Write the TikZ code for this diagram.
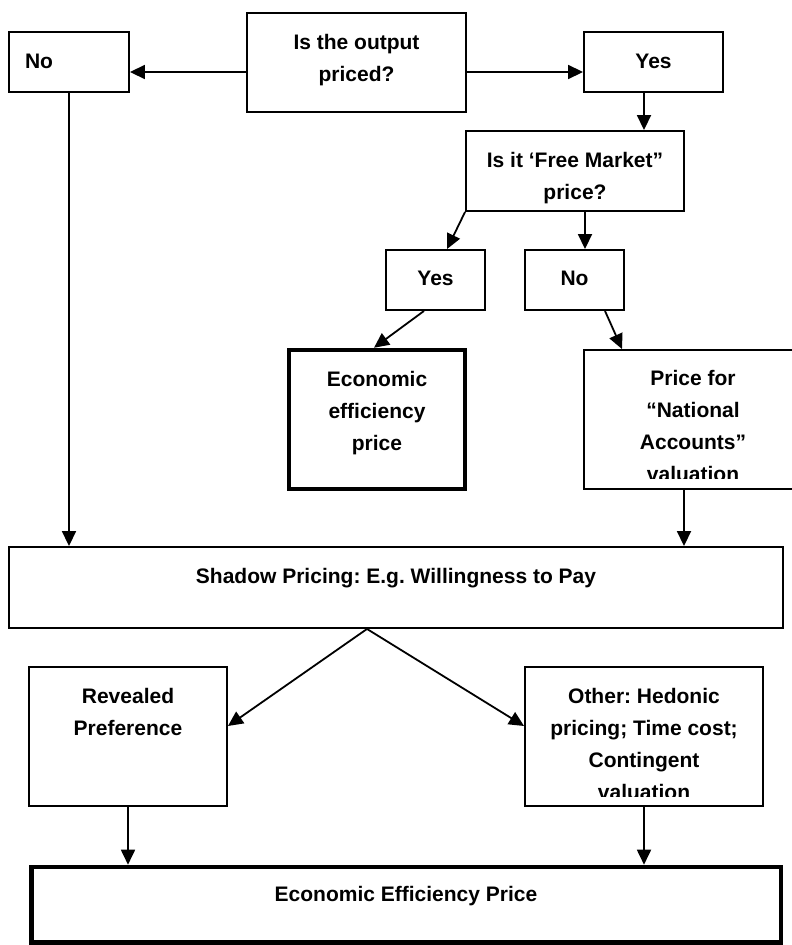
\documentclass[tikz,border=0pt]{standalone}
\usepackage{fontspec}
\setmainfont{Liberation Sans}
\usetikzlibrary{arrows.meta,positioning}
\frenchspacing

\tikzset{
	box/.style={draw, line width=1.9pt, inner sep=0pt},
	heavybox/.style={box, line width=4.5pt},
	txt/.style={align=center, inner sep=0pt, outer sep=0pt,
		font=\fontsize{21}{32}\selectfont\bfseries},
	arr/.style={line width=1.8pt, -{Triangle[length=15pt,width=14pt]}},
}

\begin{document}
\begin{tikzpicture}[x=1pt, y=-1pt]

	\useasboundingbox (0,0) rectangle (792,945);
	\clip (0,0) rectangle (792,945);

	% top question and its two answers
	\node[box, minimum width=219pt, minimum height=99pt] (q) at (356.5,62.5) {};
	\node[txt, below=22.5pt of q.north] (qtxt) {Is the output\\priced?};

	\node[box, minimum width=120pt, minimum height=60pt] (no) at (69,62) {};
	\node[txt, anchor=north west] (notxt) at ([xshift=17pt, yshift=-22.5pt]no.north west) {No};

	\node[box, minimum width=139pt, minimum height=60pt] (yes) at (653.5,62) {};
	\node[txt, below=22.5pt of yes.north] (yestxt) {Yes};

	% free market question
	\node[box, minimum width=218pt, minimum height=80pt] (free) at (575,171) {};
	\node[txt, below=22.5pt of free.north] (freetxt) {Is it ‘Free Market”\\price?};

	\node[box, minimum width=99pt, minimum height=60pt] (yes2) at (435.5,280) {};
	\node[txt, below=21.5pt of yes2.north] (yes2txt) {Yes};

	\node[box, minimum width=99pt, minimum height=60pt] (no2) at (574.5,280) {};
	\node[txt, below=21.5pt of no2.north] (no2txt) {No};

	% outcomes
	\node[heavybox, minimum width=176pt, minimum height=139pt] (econ) at (377,419.5) {};
	\node[txt, below=23.5pt of econ.north] (econtxt) {Economic\\efficiency\\price};

	\node[box, minimum width=218pt, minimum height=139pt] (nat) at (693,419.5) {};
	\begin{scope}
		\clip (nat.north west) rectangle ([yshift=11pt]nat.south east);
		\node[txt, below=21.5pt of nat.north] (nattxt) {Price for\\“National\\Accounts”\\valuation};
	\end{scope}

	% shadow pricing
	\node[box, minimum width=774pt, minimum height=81pt] (shadow) at (396,587.5) {};
	\node[txt, below=22.5pt of shadow.north] (shadowtxt) {Shadow Pricing: E.g. Willingness to Pay};

	\node[box, minimum width=198pt, minimum height=139pt] (rev) at (128,736.5) {};
	\node[txt, below=22.5pt of rev.north] (revtxt) {Revealed\\Preference};

	\node[box, minimum width=238pt, minimum height=139pt] (other) at (644,736.5) {};
	\begin{scope}
		\clip (other.north west) rectangle ([yshift=10.5pt]other.south east);
		\node[txt, below=22.5pt of other.north] (othertxt) {Other: Hedonic\\pricing; Time cost;\\Contingent\\valuation};
	\end{scope}

	\node[heavybox, minimum width=749.5pt, minimum height=75.5pt] (final) at (406,904.7) {};
	\node[txt, below=21.5pt of final.north] (finaltxt) {Economic Efficiency Price};

	% connectors
	\draw[arr] (q.west |- 0,72) -- (no.east |- 0,72);
	\draw[arr] (q.east |- 0,72) -- (yes.west |- 0,72);
	\draw[arr] (yes.south -| 644,0) -- (free.north -| 644,0);
	\draw[arr] (free.south west) -- (yes2.north -| 447,0);
	\draw[arr] (free.south -| 585,0) -- (no2.north -| 585,0);
	\draw[arr] (yes2.south -| 424,0) -- (econ.north -| 374,0);
	\draw[arr] (no2.south -| 605,0) -- (nat.north -| 622,0);
	\draw[arr] (no.south) -- (no.south |- shadow.north);
	\draw[arr] (nat.south -| 684,0) -- (shadow.north -| 684,0);
	\draw[arr] (shadow.south -| 367,0) -- (rev.east |- 0,726);
	\draw[arr] (shadow.south -| 367,0) -- (other.west |- 0,726);
	\draw[arr] (rev.south) -- (rev.south |- final.north);
	\draw[arr] (other.south) -- (other.south |- final.north);

\end{tikzpicture}
\end{document}
